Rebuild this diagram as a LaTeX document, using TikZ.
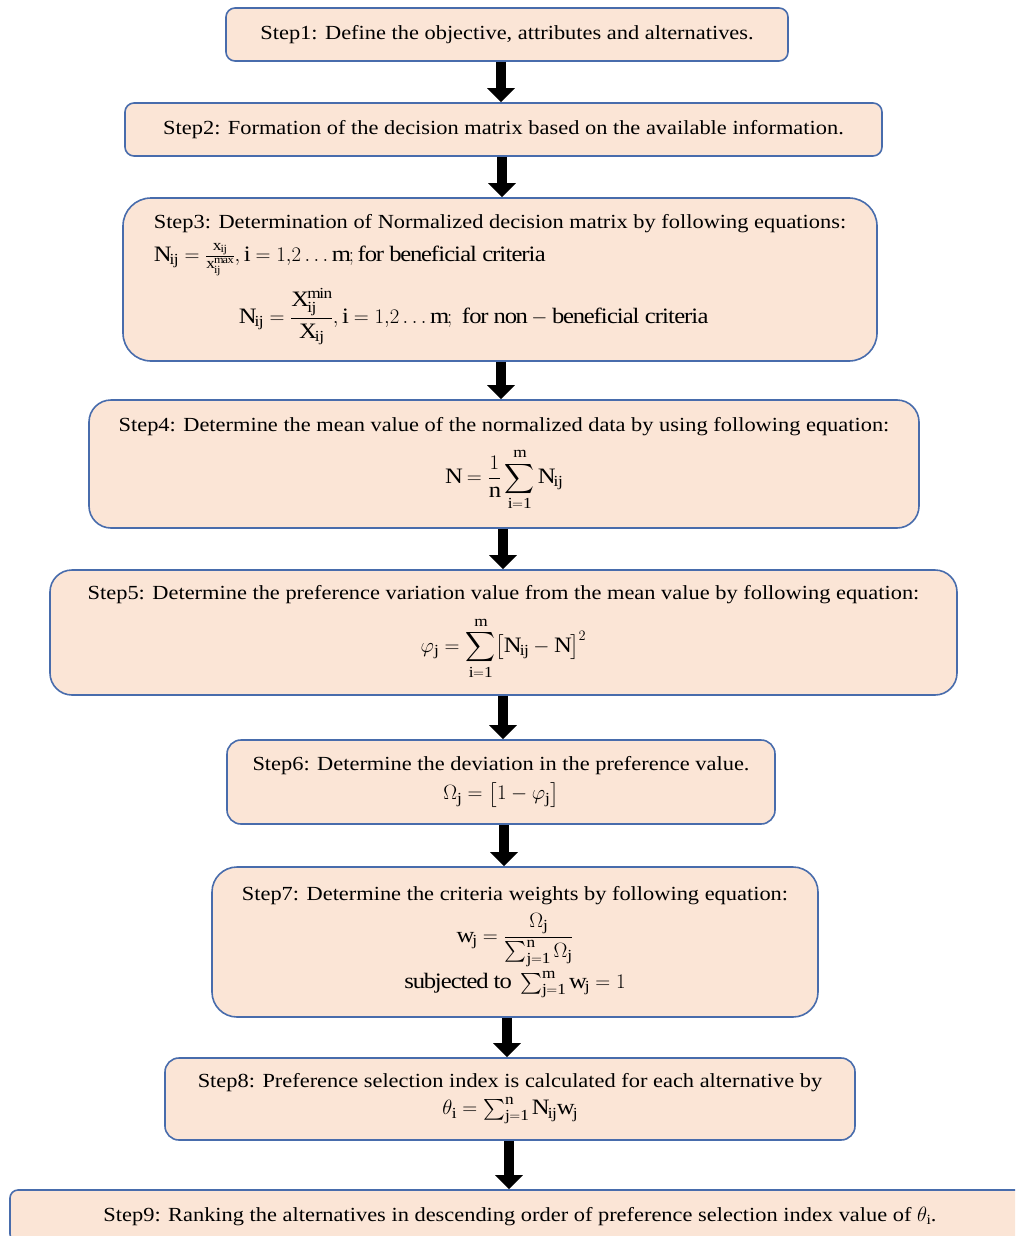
\documentclass[tikz,border=0pt]{standalone}
\usepackage{amsmath}
\usepackage{fontspec}
\setmainfont{Liberation Serif}[FakeStretch=1.12]
\usetikzlibrary{arrows.meta}
\definecolor{peach}{RGB}{251,229,214}
\definecolor{edgeblue}{RGB}{72,108,172}
\tikzset{
  stepbox/.style={draw=edgeblue, fill=peach, line width=1.6pt, align=center,
    inner sep=0pt, font=\fontsize{20}{27}\selectfont},
  flow/.style={line width=10pt, -{Triangle[width=27pt,length=14pt]}}
}
\newcommand{\rmm}[1]{\mathrm{#1}}
\newcommand{\eqsize}{\fontsize{22}{27}\selectfont}

\begin{document}
\begin{tikzpicture}[x=1pt,y=-1pt]
  \useasboundingbox (0,0) rectangle (1015,1236);
  \clip (0,0) rectangle (1015,1236);

  \node [stepbox, rounded corners=9pt, minimum width=562pt, minimum height=53pt] (s1) at (507,34.5)
    {Step1: Define the objective, attributes and alternatives.};
  \node [stepbox, rounded corners=9pt, minimum width=757pt, minimum height=53pt] (s2) at (503.5,129.5)
    {Step2: Formation of the decision matrix based on the available information.};
  \node [stepbox, align=left, rounded corners=28pt, minimum width=754pt, minimum height=163pt] (s3) at (500,279.5)
    {Step3: Determination of Normalized decision matrix by following equations:\\[6pt]
     {\eqsize$\rmm{N_{ij}} = \frac{\rmm{x_{ij}}}{\rmm{x_{ij}^{max}}}, \rmm{i} = 1{,}2 \ldots \rmm{m}; \rmm{for\ beneficial\ criteria}$}\\[12pt]
     \hspace*{85pt}{\eqsize$\rmm{N_{ij}} = \dfrac{\rmm{X_{ij}^{min}}}{\rmm{X_{ij}}}, \rmm{i} = 1{,}2 \ldots \rmm{m};\ \rmm{for\ non} - \rmm{beneficial\ criteria}$}};
  \node [stepbox, rounded corners=22pt, minimum width=830pt, minimum height=128pt] (s4) at (504,464)
    {Step4: Determine the mean value of the normalized data by using following equation:\\[12pt]
     {\eqsize$\rmm{N} = \dfrac{1}{\rmm{n}} \displaystyle\sum_{\rmm{i=1}}^{\rmm{m}} \rmm{N_{ij}}$}};
  \node [stepbox, rounded corners=22pt, minimum width=907pt, minimum height=125pt] (s5) at (503.5,632.5)
    {Step5: Determine the preference variation value from the mean value by following equation:\\[12pt]
     {\eqsize$\varphi_{\rmm{j}} = \displaystyle\sum_{\rmm{i=1}}^{\rmm{m}} \bigl[\rmm{N_{ij}} - \rmm{N}\bigr]^2$}};
  \node [stepbox, rounded corners=14pt, minimum width=548pt, minimum height=84pt] (s6) at (501,782)
    {Step6: Determine the deviation in the preference value.\\[2pt]
     {\eqsize$\Omega_{\rmm{j}} = \bigl[1 - \varphi_{\rmm{j}}\bigr]$}};
  \node [stepbox, rounded corners=25pt, minimum width=606pt, minimum height=150pt] (s7) at (515,942)
    {Step7: Determine the criteria weights by following equation:\\[8pt]
     {\eqsize$\rmm{w_j} = \dfrac{\Omega_{\rmm{j}}}{\sum_{\rmm{j=1}}^{\rmm{n}} \Omega_{\rmm{j}}}$}\\[4pt]
     {\eqsize$\rmm{subjected\ to}\ \sum_{\rmm{j=1}}^{\rmm{m}} \rmm{w_j} = 1$}};
  \node [stepbox, rounded corners=14pt, minimum width=690pt, minimum height=82pt] (s8) at (510,1099)
    {Step8: Preference selection index is calculated for each alternative by\\
     {\eqsize$\theta_{\rmm{i}} = \sum_{\rmm{j=1}}^{\rmm{n}} \rmm{N_{ij}w_j}$}};
  \node [stepbox, rounded corners=8pt, minimum width=1020pt, minimum height=52pt] (s9) at (520,1216)
    {Step9: Ranking the alternatives in descending order of preference selection index value of $\theta_{\rmm{i}}$.};

  % arrows between the steps
  \foreach \a/\b/\x in {s1/s2/501, s2/s3/502, s3/s4/501, s4/s5/503, s5/s6/503, s6/s7/504, s7/s8/507, s8/s9/509} {
    \coordinate (ax) at (\x,0);
    \draw [flow] (\a.south -| ax) -- (\b.north -| ax);
  }
\end{tikzpicture}
\end{document}
